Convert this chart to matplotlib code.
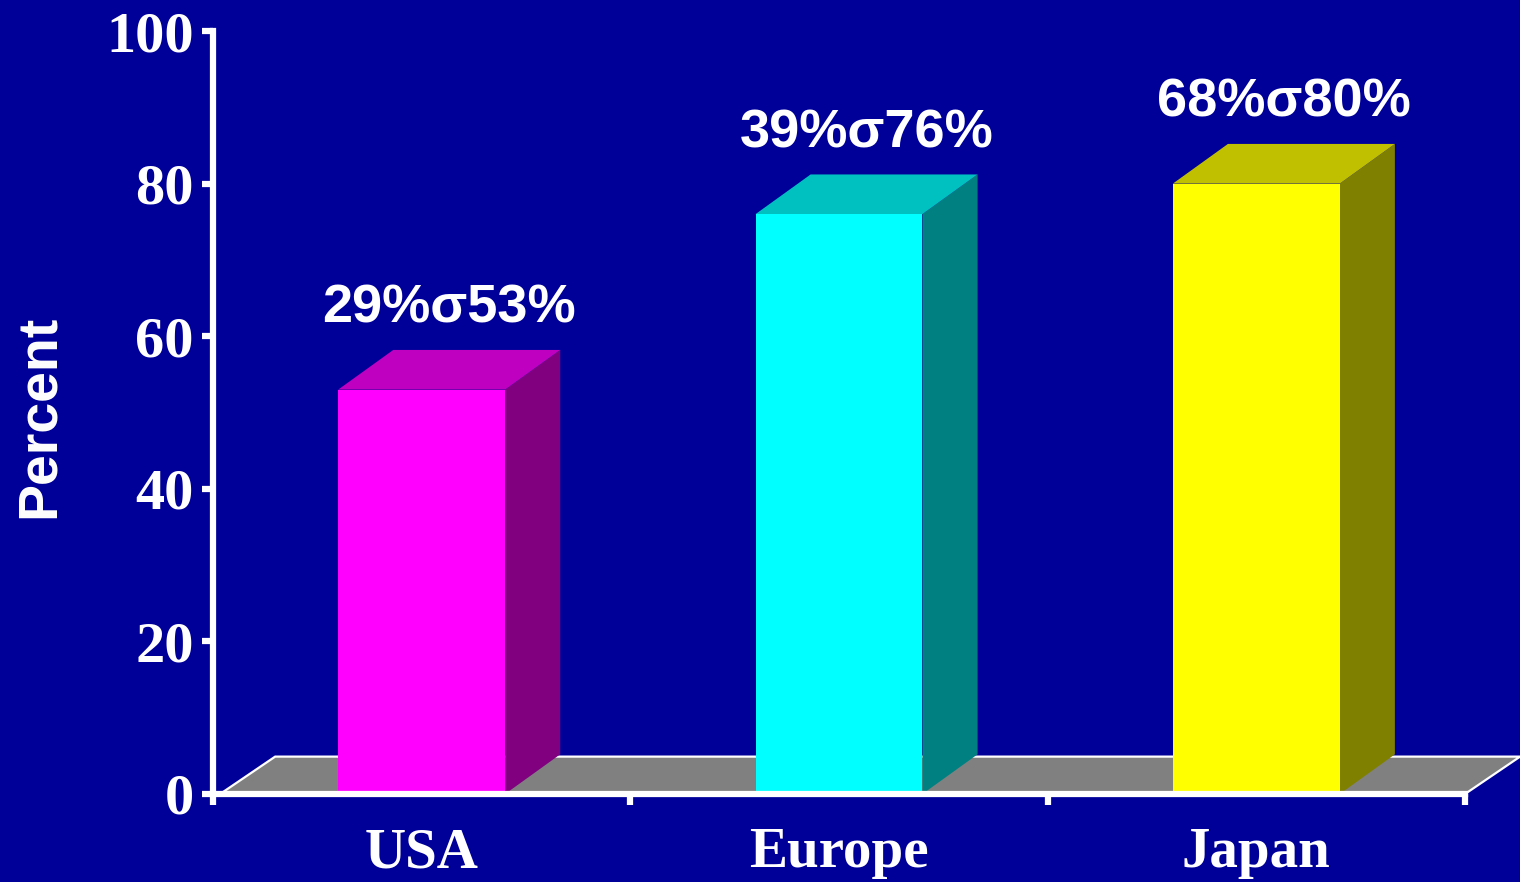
import matplotlib
matplotlib.use("Agg")
import matplotlib.pyplot as plt
from matplotlib.patches import Polygon, Rectangle

# data
regions = ["USA", "Europe", "Japan"]
values = [53, 76, 80]
ranges = ["29%σ53%", "39%σ76%", "68%σ80%"]
front_cols = ["#FF00FF", "#00FFFF", "#FFFF00"]
top_cols = ["#C000C0", "#00C0C0", "#C0C000"]
side_cols = ["#800080", "#008080", "#808000"]
yticks = [0, 20, 40, 60, 80, 100]

bg = "#000099"
serif = "Liberation Serif"
sans = "Liberation Sans"

fig = plt.figure(figsize=(15.2, 8.82), dpi=100, facecolor=bg)
ax = fig.add_axes([213 / 1520, 1 - 794 / 882, 1252 / 1520, 763 / 882])
ax.set_facecolor(bg)

w = 0.40      # bar width (category units)
dx = 0.132    # depth offset x
dy_bar = 5.2  # depth offset y for bars
dy_fl = 4.9   # depth offset y for floor

# floor
floor = Polygon([(-0.483, 0), (2.5, 0), (2.5 + dx, dy_fl), (-0.483 + dx, dy_fl)],
                closed=True, facecolor="#808080", edgecolor="none", clip_on=False, zorder=1)
ax.add_patch(floor)
ax.plot([-0.483, -0.483 + dx, 2.5 + dx, 2.5], [0, dy_fl, dy_fl, 0],
        color="white", lw=1.6, clip_on=False, zorder=1.5, solid_joinstyle="miter")

for i, v in enumerate(values):
    x0, x1 = i - w / 2, i + w / 2
    ax.add_patch(Rectangle((x0, 0), w, v, facecolor=front_cols[i], edgecolor="none",
                           zorder=3, clip_on=False))
    ax.add_patch(Polygon([(x1, 0), (x1 + dx, dy_bar), (x1 + dx, v + dy_bar), (x1, v)],
                         closed=True, facecolor=side_cols[i], edgecolor="none",
                         zorder=2.9, clip_on=False))
    ax.add_patch(Polygon([(x0, v), (x1, v), (x1 + dx, v + dy_bar), (x0 + dx, v + dy_bar)],
                         closed=True, facecolor=top_cols[i], edgecolor="none",
                         zorder=2.9, clip_on=False))
    ax.text(i + dx / 2, v + dy_bar + 5.4, ranges[i], ha="center", va="center",
            color="white", fontsize=39, fontweight="bold", family=sans, clip_on=False)

ax.set_xlim(-0.5, 2.5)
ax.set_ylim(0, 100)

for s in ["top", "right"]:
    ax.spines[s].set_visible(False)
for s in ["left", "bottom"]:
    ax.spines[s].set_color("white")
    ax.spines[s].set_linewidth(4.5)
    ax.spines[s].set_zorder(5)

ax.set_yticks(yticks)
ax.set_yticklabels([str(t) for t in yticks], fontsize=42, fontweight="bold",
                   family=serif, color="white")
ax.tick_params(axis="y", direction="out", length=8, width=4.5, color="white", pad=6)

ax.set_xticks(range(len(regions)))
ax.set_xticklabels(regions, fontsize=41, fontweight="bold", family=serif, color="white")
ax.set_xticks([-0.5, 0.5, 1.5, 2.5], minor=True)
ax.tick_params(axis="x", which="major", length=0, pad=24)
ax.tick_params(axis="x", which="minor", direction="out", length=8, width=4.5, color="white")

fig.text(40 / 1520, 1 - 416 / 882, "Percent", rotation=90, ha="center", va="center",
         color="white", fontsize=40, fontweight="bold", family=sans)

fig.savefig("out.png", dpi=100, facecolor=bg)
